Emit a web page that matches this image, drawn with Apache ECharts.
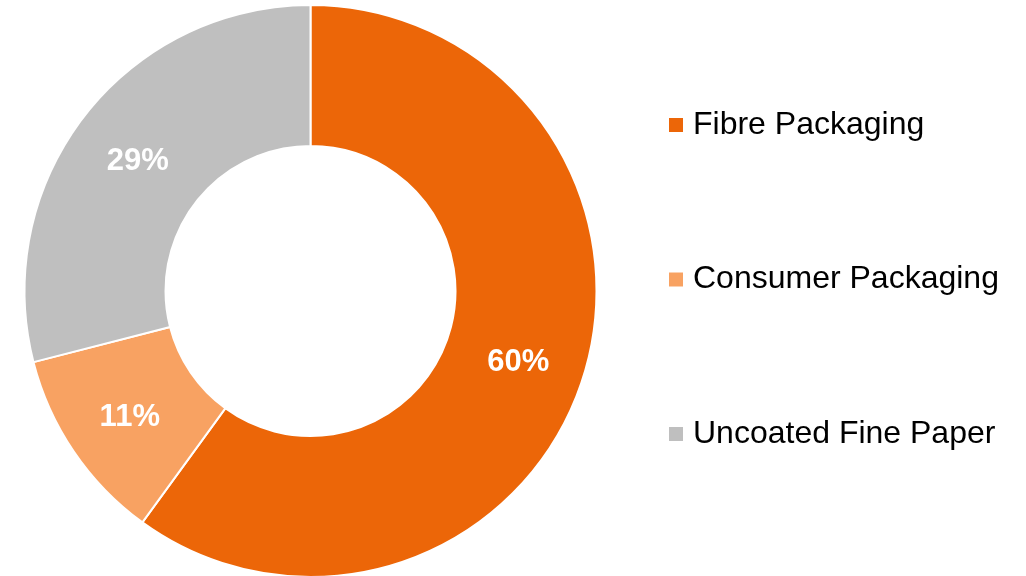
<!DOCTYPE html>
<html>
<head>
<meta charset="utf-8">
<script src="https://cdn.jsdelivr.net/npm/echarts@6/dist/echarts.min.js"></script>
<style>html,body{margin:0;padding:0;background:#fff;}#c{width:1026px;height:576px;}</style>
</head>
<body>
<div id="c"></div>
<script>
const categories = ['Fibre Packaging', 'Consumer Packaging', 'Uncoated Fine Paper'];
const values = [60, 11, 29];
const colors = ['#EC6608', '#F8A262', '#BFBFBF'];

const chart = echarts.init(document.getElementById('c'), null, {renderer: 'canvas'});
chart.setOption({
  animation: false,
  backgroundColor: '#ffffff',
  color: colors,
  legend: {
    orient: 'vertical',
    left: 669,
    top: 109,
    padding: 0,
    itemWidth: 14,
    itemHeight: 14,
    itemGap: 122.5,
    itemStyle: {borderWidth: 0},
    icon: 'rect',
    textStyle: {fontFamily: 'Liberation Sans, Arial, sans-serif', fontSize: 32, color: '#000', lineHeight: 32, padding: [0,0,0,5]},
    data: categories
  },
  series: [{
    type: 'pie',
    center: [310.5, 291],
    radius: [145, 286],
    startAngle: 90,
    clockwise: true,
    itemStyle: {borderColor: '#ffffff', borderWidth: 2},
    label: {
      show: true,
      position: 'inside',
      formatter: '{c}%',
      color: '#ffffff',
      fontWeight: 'bold',
      fontSize: 31,
      fontFamily: 'Liberation Sans, Arial, sans-serif'
    },
    labelLayout: {dy: 4},
    labelLine: {show: false},
    emphasis: {disabled: true},
    data: categories.map((n, i) => ({name: n, value: values[i]}))
  }]
});
</script>
</body>
</html>
